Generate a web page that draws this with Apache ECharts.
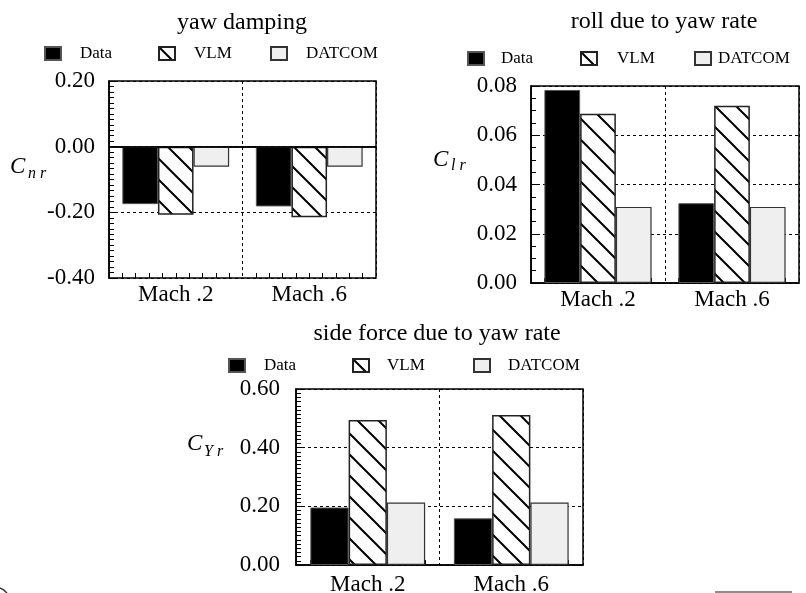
<!DOCTYPE html>
<html><head><meta charset="utf-8">
<script src="https://cdn.jsdelivr.net/npm/echarts@6/dist/echarts.min.js"></script>
<style>html,body{margin:0;padding:0;background:#fff}#c{width:806px;height:593px}</style>
</head><body><div id="c"></div>
<script>
// ---- data ----
const categories = ['Mach .2', 'Mach .6'];
const seriesNames = ['Data', 'VLM', 'DATCOM'];
const titles = ['yaw damping', 'roll due to yaw rate', 'side force due to yaw rate'];
const symbolMain = ['C', 'C', 'C'];
const symbolSub = ['n r', 'l r', 'Y r'];
// yaw damping  C_nr
const cnrData = [-0.175, -0.182];
const cnrVLM = [-0.207, -0.215];
const cnrDATCOM = [-0.061, -0.061];
const cnrAxis = [-0.40, 0.20, 0.20]; // min, max, interval
// roll due to yaw rate  C_lr
const clrData = [0.0784, 0.0324];
const clrVLM = [0.0687, 0.0720];
const clrDATCOM = [0.0309, 0.0309];
const clrAxis = [0.00, 0.08, 0.02];
// side force due to yaw rate  C_Yr
const cyrData = [0.196, 0.159];
const cyrVLM = [0.494, 0.511];
const cyrDATCOM = [0.213, 0.213];
const cyrAxis = [0.00, 0.60, 0.20];

// ---- styling / layout ----
const FONT = '"Liberation Serif", "Times New Roman", serif';
function hatch() {
  const s = 21, c = document.createElement('canvas');
  c.width = s; c.height = s;
  const g = c.getContext('2d');
  g.fillStyle = '#fff'; g.fillRect(0, 0, s, s);
  g.strokeStyle = '#000'; g.lineWidth = 2;
  g.beginPath();
  for (const o of [-s, 0, s]) { g.moveTo(o - 2, -2); g.lineTo(o + s + 2, s + 2); }
  g.stroke();
  return c;
}
const barStyles = [
  {color: '#000', borderColor: '#555', borderWidth: 1},
  {color: {image: hatch(), repeat: 'repeat'}, borderColor: '#222', borderWidth: 1.5},
  {color: '#efefef', borderColor: '#333', borderWidth: 1.2}
];
const panels = [
  {data: [cnrData, cnrVLM, cnrDATCOM], axis: cnrAxis, grid: {left: 109, top: 81, width: 267, height: 197},
   minor: 12, zero: true, labMargin: 14, catMargin: 5,
   titlePos: [242, 23], sym: [10, 167, 28, 174],
   legendTop: 45, legendLeft: [44, 158, 270], legendPad: [14, 14, 14]},
  {data: [clrData, clrVLM, clrDATCOM], axis: clrAxis, grid: {left: 531, top: 86, width: 268, height: 197},
   minor: 4, zero: false, labMargin: 14, catMargin: 5,
   titlePos: [664, 22], sym: [433, 160, 451, 166],
   legendTop: 50, legendLeft: [467, 580, 694], legendPad: [12, 15, 2]},
  {data: [cyrData, cyrVLM, cyrDATCOM], axis: cyrAxis, grid: {left: 296, top: 389, width: 287, height: 176},
   minor: 14, zero: false, labMargin: 16, catMargin: 8,
   titlePos: [437, 334], sym: [187, 444, 204, 452],
   legendTop: 357, legendLeft: [228, 352, 473], legendPad: [14, 13, 13]}
];

const helperTicks = Array.from({length: 21}, (_, i) => String(i));
const option = {animation: false, backgroundColor: '#fff', grid: [], xAxis: [], yAxis: [], series: [], legend: [], graphic: []};

panels.forEach((p, i) => {
  option.grid.push(Object.assign({show: true, borderColor: '#000', borderWidth: 1.5, backgroundColor: 'transparent',
    containLabel: false, outerBoundsMode: 'none'}, p.grid));
  option.xAxis.push({
    type: 'category', gridIndex: i, data: categories, position: 'bottom',
    axisLine: {lineStyle: {color: '#000', width: 1.5}}, axisTick: {show: false},
    axisLabel: {color: '#000', fontSize: 23, fontFamily: FONT, margin: p.catMargin},
    splitLine: {show: true, lineStyle: {color: '#000', type: [3, 3], width: 1}}
  });
  option.xAxis.push({
    type: 'category', gridIndex: i, data: helperTicks, boundaryGap: false, position: 'bottom',
    axisLine: {show: false}, axisLabel: {show: false}, splitLine: {show: false},
    axisTick: {show: true, inside: true, length: 5, interval: (idx) => idx % 10 !== 0, lineStyle: {color: '#000', width: 1}}
  });
  option.yAxis.push({
    type: 'value', gridIndex: i, min: p.axis[0], max: p.axis[1], interval: p.axis[2],
    axisLine: {show: true, lineStyle: {color: '#000', width: 1.5}},
    axisTick: {show: true, inside: true, length: 9, lineStyle: {color: '#000', width: 1}},
    minorTick: {show: true, splitNumber: p.minor, length: 5, lineStyle: {color: '#000', width: 1}},
    splitLine: {show: true, lineStyle: {color: '#000', type: [3, 3], width: 1}},
    axisLabel: {color: '#000', fontSize: 23, fontFamily: FONT, margin: p.labMargin,
      formatter: v => (Math.abs(v) < 1e-9 ? 0 : v).toFixed(2)}
  });
  seriesNames.forEach((name, k) => {
    const s = {
      type: 'bar', name: name, xAxisIndex: 2 * i, yAxisIndex: i, data: p.data[k],
      barGap: '0%', barCategoryGap: '20%', itemStyle: barStyles[k], emphasis: {disabled: true}
    };
    if (p.zero && k === 0) {
      s.markLine = {silent: true, symbol: 'none', label: {show: false},
        lineStyle: {color: '#000', type: 'solid', width: 1.5}, data: [{yAxis: 0}]};
    }
    option.series.push(s);
    option.legend.push({
      data: [name], left: p.legendLeft[k], top: p.legendTop, padding: 0, icon: 'rect',
      itemWidth: 16, itemHeight: 13, selectedMode: false,
      textStyle: {color: '#000', fontSize: 17, fontFamily: FONT, padding: [0, 0, 0, p.legendPad[k]]}
    });
  });
  option.graphic.push({type: 'text', x: p.titlePos[0], y: p.titlePos[1],
    style: {text: titles[i], fontSize: 24, fontFamily: FONT, fill: '#000', align: 'center', verticalAlign: 'middle'}});
  option.graphic.push({type: 'text', x: p.sym[0], y: p.sym[1],
    style: {text: symbolMain[i], fontSize: 23, fontStyle: 'italic', fontFamily: FONT, fill: '#000', align: 'left', verticalAlign: 'middle'}});
  option.graphic.push({type: 'text', x: p.sym[2], y: p.sym[3],
    style: {text: symbolSub[i], fontSize: 16, fontStyle: 'italic', fontFamily: FONT, fill: '#000', align: 'left', verticalAlign: 'middle'}});
});
// page edge artefacts of the scanned figure
option.graphic.push({type: 'line', shape: {x1: 715, y1: 592, x2: 792, y2: 592}, style: {stroke: '#666', lineWidth: 1.5}});
option.graphic.push({type: 'bezierCurve', shape: {x1: 0, y1: 588, cpx1: 3, cpy1: 589, x2: 7, y2: 593}, style: {stroke: '#333', lineWidth: 1.5, fill: null}});

const chart = echarts.init(document.getElementById('c'));
chart.setOption(option);
</script>
</body></html>
